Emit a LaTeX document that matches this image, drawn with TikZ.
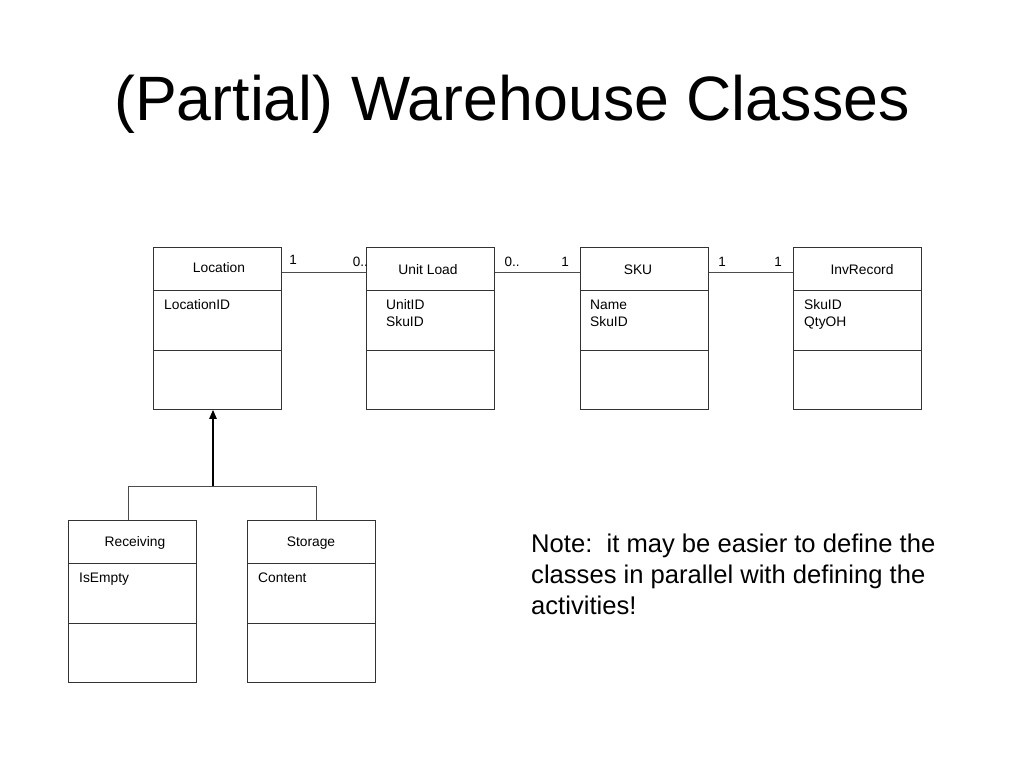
\documentclass[tikz,border=0pt]{standalone}
\usepackage{fontspec}
\setmainfont{Liberation Sans}
\usetikzlibrary{arrows.meta}
\begin{document}
\begin{tikzpicture}[x=1pt,y=-1pt,
  cls/.style={draw=black!80, line width=0.9pt, minimum width=128pt, minimum height=162pt, inner sep=0pt, anchor=north west},
  div/.style={draw=black!80, line width=0.9pt},
  assoc/.style={draw=black!70, line width=0.9pt},
  cname/.style={font=\fontsize{13.8}{15}\selectfont, inner sep=0pt},
  attr/.style={font=\fontsize{13.8}{17}\selectfont, inner sep=0pt, anchor=base west, align=left},
  mult/.style={font=\fontsize{13.5}{14}\selectfont, inner sep=0pt}]
\useasboundingbox (0,0) rectangle (1024,768);
\node[font=\fontsize{62.7}{70}\selectfont, inner sep=0pt, anchor=base] (title) at (512,120) {(Partial) Warehouse Classes};
% class boxes
\node[cls] (loc) at (153,247) {};
\node[cls] (ul) at (366,247) {};
\node[cls] (sku) at (580,247) {};
\node[cls] (inv) at (793,247) {};
\node[cls] (rec) at (68,520) {};
\node[cls] (sto) at (247,520) {};
% dividers
\foreach \b in {loc,ul,sku,inv,rec,sto}{
  \draw[div] ([yshift=-43pt]\b.north west) -- ([yshift=-43pt]\b.north east);
  \draw[div] ([yshift=-103pt]\b.north west) -- ([yshift=-103pt]\b.north east);
}
% names
\node[cname] (locn) at (219,268) {Location};
\node[cname] (uln) at (428,270) {Unit Load};
\node[cname] (skun) at (638,270) {SKU};
\node[cname] (invn) at (862,270) {InvRecord};
\node[cname] (recn) at (135,543) {Receiving};
\node[cname] (ston) at (311,543) {Storage};
% attributes
\node[attr] (loca) at (164,309) {LocationID};
\node[attr] (ula) at (386,326) {UnitID\\SkuID};
\node[attr] (skua) at (590,326) {Name\\SkuID};
\node[attr] (inva) at (804,326) {SkuID\\QtyOH};
\node[attr] (reca) at (79,582) {IsEmpty};
\node[attr] (stoa) at (258,582) {Content};
% associations
\draw[assoc] (loc.east |- 0,272) -- (ul.west |- 0,272);
\draw[assoc] (ul.east |- 0,272) -- (sku.west |- 0,272);
\draw[assoc] (sku.east |- 0,272) -- (inv.west |- 0,272);
% multiplicities
\node[mult] (m1) at (293,260) {1};
\node[mult, anchor=east] (m2) at (368,262) {0..};
\node[mult] (m3) at (512,262) {0..};
\node[mult] (m4) at (565,262) {1};
\node[mult] (m5) at (722,262) {1};
\node[mult] (m6) at (778,262) {1};
% generalization
\coordinate (j) at (213,486);
\coordinate (jl) at (128,486);
\coordinate (jr) at (316,486);
\draw[line width=1.1pt, -{Triangle[length=9pt,width=7.5pt]}] (j) -- (j |- loc.south);
\draw[assoc] (rec.north -| jl) -- (jl) -- (jr) -- (sto.north -| jr);
% note
\node[font=\fontsize{25.6}{31}\selectfont, inner sep=0pt, anchor=base west, align=left] (note) at (531,614)
 {Note:\ \ it may be easier to define the\\classes in parallel with defining the\\activities!};
\end{tikzpicture}
\end{document}
